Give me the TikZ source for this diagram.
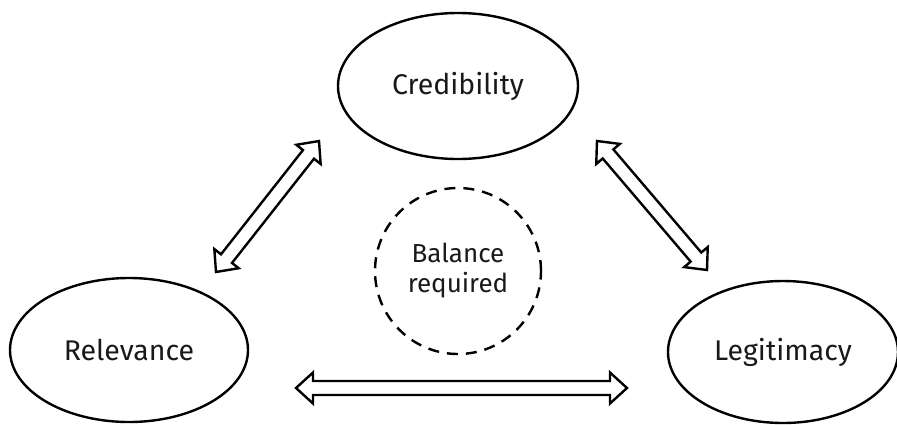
\documentclass[tikz,border=0pt]{standalone}
\usepackage{fontspec}
\setmainfont{Fira Sans}
\usetikzlibrary{shapes.geometric,calc}
\tikzset{
  oval/.style={ellipse, draw=black, line width=2.4pt, inner sep=0pt, font=\fontsize{28.5}{32}\selectfont, text=black!90},
  balance/.style={circle, draw=black, line width=2.4pt, dash pattern=on 11pt off 8pt, minimum size=166pt, inner sep=0pt, align=center, font=\fontsize{26}{30}\selectfont, text=black!90},
  dblarrow/.style={draw=black, line width=2.4pt, fill=white, line join=miter}
}
\newcommand{\dblconnect}[2]{%
  \path let \p1=($(#2)-(#1)$) in \pgfextra{%
    \pgfmathsetmacro\arrlen{veclen(\x1,\y1)}%
    \pgfmathsetmacro\arrang{atan2(\y1,\x1)}%
    \xdef\arrlen{\arrlen}\xdef\arrang{\arrang}};
  \begin{scope}[shift={(#1)}, rotate=\arrang]
    \draw[dblarrow] (0,0) -- (17,15.5) -- (17,7) -- (\arrlen-17,7) -- (\arrlen-17,15.5)
      -- (\arrlen,0) -- (\arrlen-17,-15.5) -- (\arrlen-17,-7) -- (17,-7) -- (17,-15.5) -- cycle;
  \end{scope}}
\begin{document}
\begin{tikzpicture}[x=1pt,y=-1pt]
\useasboundingbox (0,0) rectangle (897,424);
\node[oval, minimum width=240pt, minimum height=146pt] (cred) at (458,86) {Credibility};
\node[oval, minimum width=238pt, minimum height=144pt] (rel) at (129,350) {Relevance};
\node[oval, minimum width=230pt, minimum height=142pt] (leg) at (783,352) {Legitimacy};
\node[balance] (bal) at (458,271) {Balance\\required};
\coordinate (a1s) at (216,272);
\coordinate (a1e) at (319,141);
\coordinate (a2s) at (597,141);
\coordinate (a2e) at (707,270);
\coordinate (a3s) at (296,388);
\coordinate (a3e) at (627,388);
\dblconnect{a1s}{a1e}
\dblconnect{a2s}{a2e}
\dblconnect{a3s}{a3e}
\end{tikzpicture}
\end{document}
